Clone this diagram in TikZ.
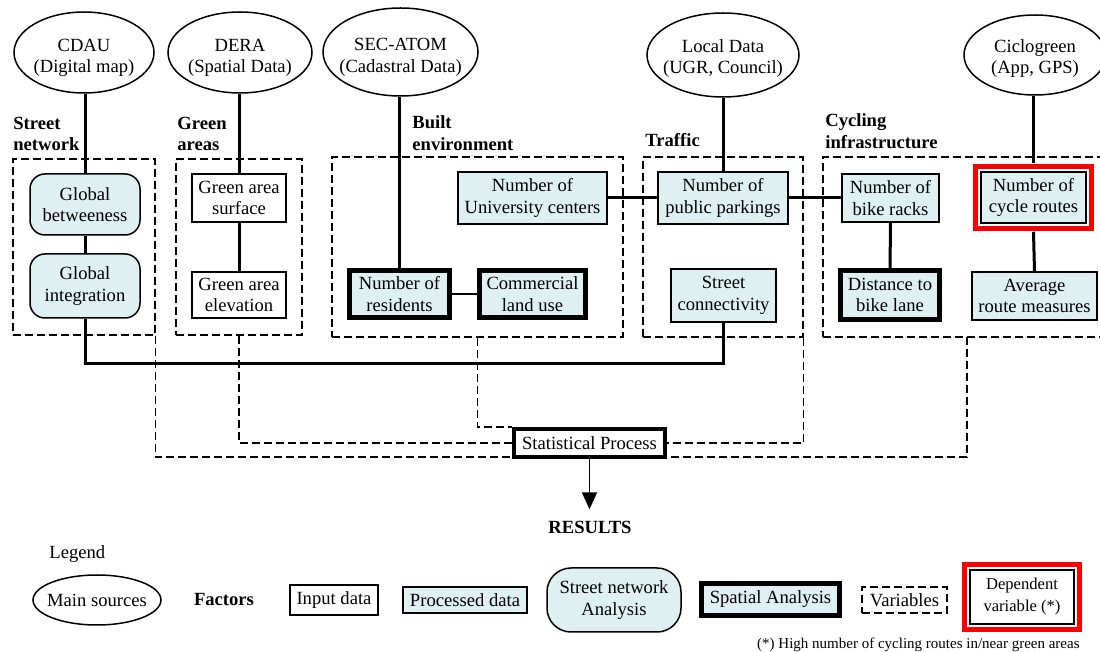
\documentclass[tikz,border=0pt]{standalone}
\usepackage{fontspec}
\setmainfont{Liberation Serif}
\usetikzlibrary{shapes.geometric,arrows.meta,calc}
\definecolor{procfill}{RGB}{222,240,242}

\begin{document}
\begin{tikzpicture}[x=0.5pt,y=-0.5pt,
    every node/.style={font=\fontsize{9.3}{10.8}\selectfont, align=center, inner sep=0pt},
    source/.style={ellipse, draw, line width=0.75pt, inner xsep=-3.5pt},
    input/.style={rectangle, draw, line width=0.75pt},
    proc/.style={input, fill=procfill},
    snet/.style={proc, rounded corners=7.5pt},
    spatial/.style={proc, line width=2.5pt},
    process/.style={input, line width=2pt},
    group/.style={draw, line width=0.6pt, dash pattern=on 4pt off 2pt},
    factor/.style={font=\fontsize{9.3}{10.8}\selectfont\bfseries, align=left, anchor=west},
    link/.style={line width=1.5pt},
    varlink/.style={line width=0.6pt, dash pattern=on 4pt off 2pt},
    depframe/.style={draw=red, line width=2.5pt}]

    \useasboundingbox (0,0) rectangle (1100,652);

    % Main sources
    \node[source, minimum width=70pt, minimum height=40.5pt] (cdau) at (84,52.5) {\rule{0pt}{11.5pt}CDAU\\(Digital map)};
    \node[source, minimum width=72pt, minimum height=40.5pt] (dera) at (240,52.5) {\rule{0pt}{11.5pt}DERA\\(Spatial Data)};
    \node[source, minimum width=77.5pt, minimum height=44pt] (secatom) at (400.5,52) {\rule{0pt}{11.5pt}SEC-ATOM\\(Cadastral Data)};
    \node[source, minimum width=76pt, minimum height=42pt] (local) at (723,55) {\rule{0pt}{10pt}Local Data\\(UGR, Council)};
    \node[source, minimum width=71pt, minimum height=40pt] (ciclo) at (1035,55) {\rule{0pt}{10pt}Ciclogreen\\(App, GPS)};

    % Factor titles
    \node[factor] (tstreet) at (13,134) {Street\\network};
    \node[factor] (tgreen) at (177,134) {Green\\areas};
    \node[factor] (tbuilt) at (412,133) {Built\\environment};
    \node[factor] (ttraffic) at (645,140) {Traffic};
    \node[factor] (tcycle) at (825,131) {Cycling\\infrastructure};

    % Dashed groups of variables
    \node[group, minimum width=71pt, minimum height=88pt] (gstreet) at (84,247) {};
    \node[group, minimum width=63pt, minimum height=88pt] (ggreen) at (239,247) {};
    \node[group, minimum width=145.5pt, minimum height=90pt] (gbuilt) at (477.5,247) {};
    \node[group, minimum width=80pt, minimum height=90pt] (gtraffic) at (723,247) {};
    \node[group, minimum width=139.5pt, minimum height=90pt] (gcycle) at (962.5,247) {};
    \coordinate (cyc) at (967,337);

    % Street network
    \node[snet, minimum width=55pt, minimum height=30.5pt] (betw) at (85,204.5) {Global\\betweeness};
    \node[snet, minimum width=55pt, minimum height=32pt] (integ) at (85,286) {Global\\integration};

    % Green areas
    \node[input, minimum width=47pt, minimum height=24pt] (gsurf) at (239,198) {Green area\\surface};
    \node[input, minimum width=47pt, minimum height=23pt] (gelev) at (239,295) {Green area\\elevation};

    % Built environment
    \node[proc, minimum width=74.5pt, minimum height=26pt] (univ) at (532.5,198) {Number of\\University centers};
    \node[spatial, minimum width=50pt, minimum height=23.5pt] (resid) at (399.5,294) {Number of\\residents};
    \node[spatial, minimum width=53pt, minimum height=23.5pt] (comm) at (532.5,294) {Commercial\\land use};

    % Traffic
    \node[proc, minimum width=65pt, minimum height=26pt] (park) at (723,198) {Number of\\public parkings};
    \node[proc, minimum width=52.5pt, minimum height=26.5pt] (conn) at (723.5,295.5) {Street\\connectivity};

    % Cycling infrastructure
    \node[proc, minimum width=48.5pt, minimum height=24pt] (racks) at (890.5,198) {Number of\\bike racks};
    \node[spatial, minimum width=49.5pt, minimum height=24.5pt] (dist) at (890,295) {Distance to\\bike lane};
    \node[proc, minimum width=52.5pt, minimum height=25.5pt] (routes) at (1033.5,197.5) {Number of\\cycle routes};
    \draw[depframe] ($(routes.north west)+(-4.5,-4.5)$) rectangle ($(routes.south east)+(4.5,4.5)$);
    \node[proc, minimum width=62.5pt, minimum height=24pt] (avg) at (1034.5,296) {Average\\route measures};

    % Links from sources and between factors
    \draw[link] (betw.north) -- (betw.north |- cdau.south);
    \draw[link] (betw) -- (integ);
    \draw[link] (gsurf.north) -- (gsurf.north |- dera.south);
    \draw[link] (gsurf) -- (gelev);
    \draw[link] (resid.north) -- (resid.north |- secatom.south);
    \draw[line width=0.75pt] (resid) -- (comm);
    \draw[link] (park.north) -- (park.north |- local.south);
    \draw[link] (univ) -- (park);
    \draw[link] (park) -- (racks);
    \draw[link] (racks) -- (dist);
    \draw[link] ($(routes.north)+(0,-8)$) -- ($(routes.north |- ciclo.south)$);
    \draw[link] ($(routes.south)+(0,8)$) -- (avg.north);
    \draw[link] (integ.south) -- ++(0,45) -| (conn.south);

    % Statistical process
    \node[process, minimum width=75.5pt, minimum height=14pt] (sp) at (589.5,443) {Statistical Process};
    \draw[varlink] (gstreet.south east) |- ($(sp.south west)+(0,-2)$);
    \draw[varlink] (ggreen.south) |- (sp.west);
    \draw[varlink] (gbuilt.south) |- (sp.north west);
    \draw[varlink] (gtraffic.south east) |- (sp.east);
    \draw[varlink] (cyc) |- ($(sp.south east)+(0,-2)$);

    % Results
    \node[font=\fontsize{9.3}{10.8}\selectfont\bfseries] (res) at (590,527) {RESULTS};
    \draw[line width=0.75pt, -{Triangle[width=7.5pt,length=8.5pt]}, shorten >=5.5pt] (sp.south) -- (sp.south |- res.north);

    % Legend
    \node[anchor=west] (leg) at (49,554) {Legend};
    \node[source, minimum width=64pt, minimum height=25pt] (lsrc) at (97,600) {Main sources};
    \node[font=\fontsize{9.3}{10.8}\selectfont\bfseries] (lfac) at (224,600) {Factors};
    \node[input, minimum width=44pt, minimum height=15pt] (linput) at (334,600) {Input data};
    \node[proc, minimum width=62pt, minimum height=13pt] (lproc) at (465,600) {Processed data};
    \node[snet, rounded corners=12pt, minimum width=67pt, minimum height=32pt] (lsna) at (614,600) {Street network\\Analysis};
    \node[spatial, minimum width=69pt, minimum height=16pt] (lspat) at (770.5,599.5) {Spatial Analysis};
    \node[group, minimum width=42.5pt, minimum height=13pt] (lvar) at (904.5,600) {Variables};
    \node[input, font=\fontsize{8.3}{11}\selectfont, minimum width=52pt, minimum height=27pt] (ldep) at (1022,597) {Dependent\\variable (*)};
    \draw[depframe] ($(ldep.north west)+(-4.5,-4.5)$) rectangle ($(ldep.south east)+(4.5,4.5)$);
    \node[anchor=east, font=\fontsize{7.5}{9}\selectfont] (note) at (1080,645) {(*) High number of cycling routes in/near green areas};

\end{tikzpicture}
\end{document}
